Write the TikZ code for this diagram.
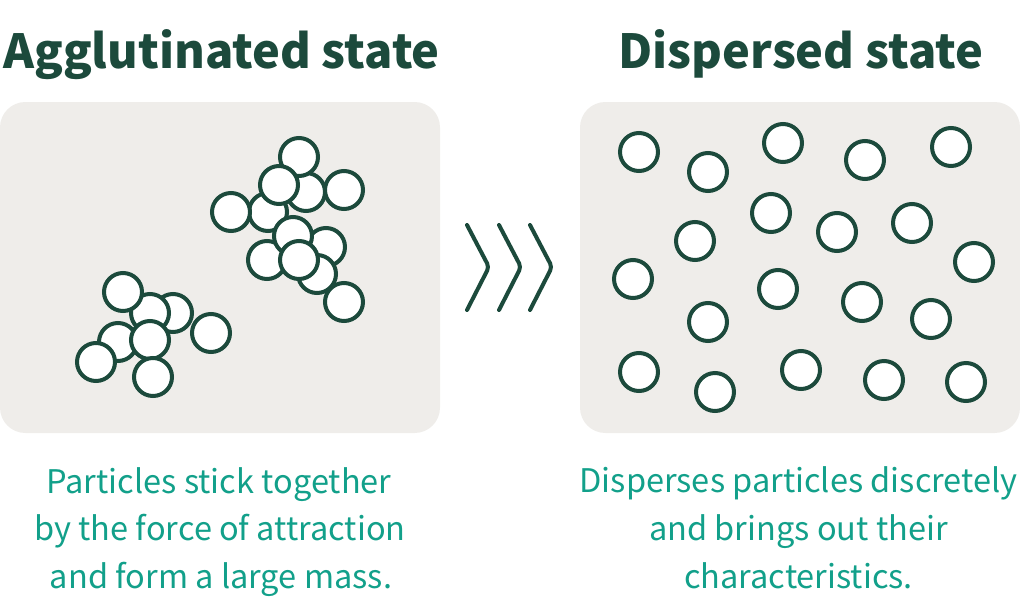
\documentclass[tikz,border=0pt]{standalone}
\usepackage{fontspec}
\setmainfont{Noto Sans CJK JP}
\definecolor{dkgreen}{HTML}{1C4A3C}
\definecolor{teal}{HTML}{12A08A}
\definecolor{panel}{HTML}{EFEDEA}
\begin{document}
\begin{tikzpicture}[x=0.75pt,y=-0.75pt,
  particle/.style={circle,draw=dkgreen,fill=white,line width=3pt,minimum size=28.5pt,inner sep=0pt},
  paneltile/.style={fill=panel,rounded corners=19pt},
  titletext/.style={anchor=base,text=dkgreen,font=\fontsize{35.2}{42}\selectfont\bfseries},
  captext/.style={anchor=base,text=teal,font=\fontsize{24.4}{30}\selectfont},
  chevron/.style={draw=dkgreen,line width=3pt,line cap=round,line join=round,rounded corners=3pt}]
\useasboundingbox (0,0) rectangle (1020,600);
% panels
\fill[paneltile] (0,102) rectangle (440,433);
\fill[paneltile] (580,102) rectangle (1020,433);
% titles
\node[titletext] (t1) at (221.5,68) {Agglutinated state};
\node[titletext] (t2) at (801,68) {Dispersed state};
% captions
\node[captext] (c1a) at (219,493) {Particles stick together};
\node[captext] (c1b) at (220,540) {by the force of attraction};
\node[captext] (c1c) at (221,588) {and form a large mass.};
\node[captext] (c2a) at (798.5,492) {Disperses particles discretely};
\node[captext] (c2b) at (798.5,540) {and brings out their};
\node[captext] (c2c) at (798.5,588) {characteristics.};
% chevrons
\coordinate (ka1) at (467,225); \coordinate (kb1) at (489,267); \coordinate (kc1) at (467,310);
\coordinate (ka2) at (499,225); \coordinate (kb2) at (521,267); \coordinate (kc2) at (499,310);
\coordinate (ka3) at (530,225); \coordinate (kb3) at (552,267); \coordinate (kc3) at (530,310);
\draw[chevron] (ka1) -- (kb1) -- (kc1);
\draw[chevron] (ka2) -- (kb2) -- (kc2);
\draw[chevron] (ka3) -- (kb3) -- (kc3);
% agglutinated cluster (upper)
\node[particle] (u1) at (306,192) {};
\node[particle] (u2) at (268,212) {};
\node[particle] (u3) at (299,157) {};
\node[particle] (u4) at (279,185) {};
\node[particle] (u5) at (344,190) {};
\node[particle] (u6) at (231,212) {};
\node[particle] (u7) at (326,247) {};
\node[particle] (u8) at (317,274) {};
\node[particle] (u9) at (267,260) {};
\node[particle] (u10) at (293,236) {};
\node[particle] (u11) at (299,260) {};
\node[particle] (u12) at (344,302) {};
% agglutinated cluster (lower)
\node[particle] (w1) at (173,313) {};
\node[particle] (w2) at (150,313) {};
\node[particle] (w3) at (123,292) {};
\node[particle] (w4) at (118,342) {};
\node[particle] (w5) at (96,362) {};
\node[particle] (w6) at (150,340) {};
\node[particle] (w7) at (153,377) {};
\node[particle] (w8) at (211,333) {};
% dispersed
\node[particle] (d1) at (639,152) {};
\node[particle] (d2) at (708,172) {};
\node[particle] (d3) at (783,143) {};
\node[particle] (d4) at (865,160) {};
\node[particle] (d5) at (951,147) {};
\node[particle] (d6) at (771,213) {};
\node[particle] (d7) at (695,241) {};
\node[particle] (d8) at (837,232) {};
\node[particle] (d9) at (912,223) {};
\node[particle] (d10) at (974,262) {};
\node[particle] (d11) at (633,279) {};
\node[particle] (d12) at (778,289) {};
\node[particle] (d13) at (862,302) {};
\node[particle] (d14) at (708,322) {};
\node[particle] (d15) at (931,319) {};
\node[particle] (d16) at (639,372) {};
\node[particle] (d17) at (715,392) {};
\node[particle] (d18) at (801,370) {};
\node[particle] (d19) at (884,380) {};
\node[particle] (d20) at (966,382) {};
\end{tikzpicture}
\end{document}
